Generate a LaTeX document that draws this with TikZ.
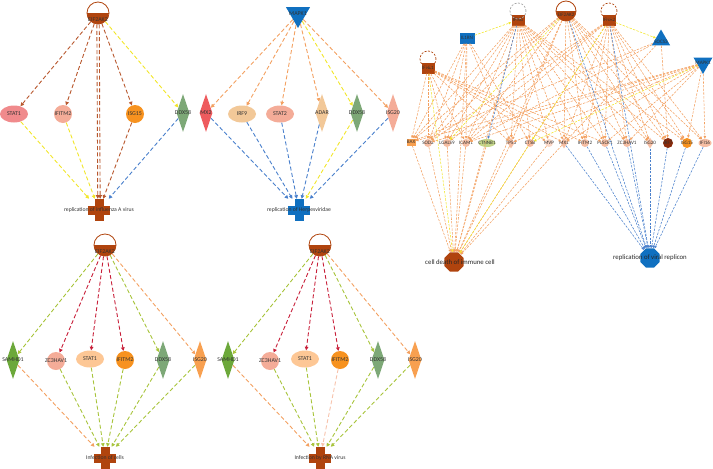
\documentclass[tikz,border=0pt]{standalone}
\usepackage{fontspec}
\setmainfont{Carlito}
\usepackage{tikz}
\usetikzlibrary{shapes.geometric, arrows.meta}
\definecolor{brownNode}{HTML}{B0440E}
\definecolor{brownEdge}{HTML}{B8582E}
\definecolor{blueNode}{HTML}{1070C0}
\definecolor{blueEdge}{HTML}{4A80CC}
\definecolor{yellowEdge}{HTML}{F2E62A}
\definecolor{orangeEdge}{HTML}{F3A060}
\definecolor{limeEdge}{HTML}{A8C43C}
\definecolor{redEdge}{HTML}{C8203A}
\definecolor{paleEdge}{HTML}{F7C3AC}
\definecolor{pinkFill}{HTML}{F08A8C}
\definecolor{salmonFill}{HTML}{F4AC98}
\definecolor{orangeFill}{HTML}{F7921F}
\definecolor{greenFill}{HTML}{7DA877}
\definecolor{leafFill}{HTML}{6CA83A}
\definecolor{tanFill}{HTML}{F2C898}
\definecolor{redFill}{HTML}{EE5B5E}
\definecolor{peachFill}{HTML}{FDC795}
\definecolor{carrotFill}{HTML}{F8A050}
\definecolor{lightFill}{HTML}{F6BEA3}
\definecolor{darkFill}{HTML}{8A2A0A}
\definecolor{oliveFill}{HTML}{C3D589}
\tikzstyle{geneText} = [font=\fontsize{5.9}{6}\selectfont, text=black!80]
\tikzstyle{smallText} = [font=\fontsize{5.1}{5}\selectfont, text=black!80]
\tikzstyle{funcText} = [font=\fontsize{5.7}{6}\selectfont, text=black!80]
\tikzstyle{bigText} = [font=\fontsize{6.8}{7}\selectfont, text=black!85]
\tikzstyle{ovalNode} = [ellipse, minimum width=28pt, minimum height=17pt, inner sep=0pt]
\tikzstyle{roundNode} = [circle, minimum size=18pt, inner sep=0pt]
\tikzstyle{diamondNode} = [diamond, minimum width=13pt, minimum height=38pt, inner sep=0pt]
\tikzstyle{squareNode} = [rectangle, minimum width=13pt, minimum height=11pt, inner sep=0pt]
\tikzstyle{triangleNode} = [regular polygon, regular polygon sides=3, minimum size=28pt, inner sep=0pt, fill=blueNode]
\tikzstyle{octagonNode} = [regular polygon, regular polygon sides=8, minimum size=21pt, inner sep=0pt]
\tikzstyle{kinaseNode} = [circle, draw=brownNode, thick, minimum size=22pt, inner sep=0pt,
  path picture={\fill[brownNode] (path picture bounding box.west) rectangle (path picture bounding box.south east);}]
\tikzstyle{haloRing} = [dash pattern=on 2pt off 1.5pt, line width=0.7pt]
\tikzstyle{linkEdge} = [dash pattern=on 4pt off 2.4pt, line width=0.9pt, -{Triangle[length=3.6pt,width=3.6pt]}]
\tikzstyle{thinEdge} = [dash pattern=on 2.4pt off 1.3pt, line width=0.55pt, -{Triangle[length=2.6pt,width=2.4pt]}]
\tikzset{crossNode/.style={rectangle, minimum size=22pt, inner sep=0pt, path picture={
  \fill[#1] ([xshift=-4.5pt]path picture bounding box.north) rectangle ([xshift=4.5pt]path picture bounding box.south);
  \fill[#1] ([yshift=4.5pt]path picture bounding box.west) rectangle ([yshift=-4.5pt]path picture bounding box.east);}}}
\tikzset{tinyNode/.style={circle, minimum size=8pt, inner sep=0pt, fill=#1}}

\begin{document}
\begin{tikzpicture}[x=1pt, y=-1pt]
    \useasboundingbox (0,0) rectangle (713,469);
    % replication of influenza A virus
    \node[kinaseNode, label={[geneText, yshift=-7pt]center:EIF2AK2}] (aEif) at (98,13) {};
    \node[ovalNode, fill=pinkFill, label={[geneText]center:STAT1}] (aStat) at (14,114) {};
    \node[roundNode, fill=salmonFill, label={[geneText]center:IFITM2}] (aIfitm) at (63,114) {};
    \node[roundNode, fill=orangeFill, label={[geneText]center:ISG15}] (aIsg) at (135,114) {};
    \node[diamondNode, fill=greenFill, label={[geneText]center:DDX58}] (aDdx) at (183,113) {};
    \node[crossNode=brownNode, label={[funcText]center:replication of influenza A virus}] (aRep) at (99,210) {};
    \foreach \gene/\tone in {aStat/brownEdge, aIfitm/brownEdge, aIsg/brownEdge, aDdx/yellowEdge}
      \draw[linkEdge, draw=\tone] (aEif) -- (\gene);
    \draw[linkEdge, draw=brownEdge, transform canvas={xshift=-1.2pt}] (aEif) -- (aRep);
    \draw[linkEdge, draw=brownEdge, transform canvas={xshift=1.2pt}] (aEif) -- (aRep);
    \foreach \gene/\tone in {aStat/yellowEdge, aIfitm/yellowEdge, aIsg/brownEdge, aDdx/blueEdge}
      \draw[linkEdge, draw=\tone] (\gene) -- (aRep);
    % replication of Herpesviridae
    \node[triangleNode, shape border rotate=180, label={[geneText]center:MAPK1}] (bMapk) at (298,14) {};
    \node[diamondNode, fill=redFill, label={[geneText]center:MX2}] (bMx) at (206,113) {};
    \node[ovalNode, fill=tanFill, label={[geneText]center:IRF9}] (bIrf) at (242,114) {};
    \node[ovalNode, fill=salmonFill, label={[geneText]center:STAT2}] (bStat) at (280,114) {};
    \node[diamondNode, fill=tanFill, label={[geneText]center:ADAR}] (bAdar) at (322,113) {};
    \node[diamondNode, fill=greenFill, label={[geneText]center:DDX58}] (bDdx) at (357,113) {};
    \node[diamondNode, fill=salmonFill, label={[geneText]center:ISG20}] (bIsg) at (393,113) {};
    \node[crossNode=blueNode, label={[funcText]center:replication of Herpesviridae}] (bRep) at (299,210) {};
    \foreach \gene/\tone in {bMx/orangeEdge, bIrf/orangeEdge, bStat/orangeEdge, bAdar/orangeEdge, bDdx/yellowEdge, bIsg/orangeEdge}
      \draw[linkEdge, draw=\tone] (bMapk) -- (\gene);
    \foreach \gene/\tone in {bMx/blueEdge, bIrf/blueEdge, bStat/blueEdge, bAdar/blueEdge, bDdx/yellowEdge, bIsg/blueEdge}
      \draw[linkEdge, draw=\tone] (\gene) -- (bRep);
    % Infection of cells
    \node[kinaseNode, label={[geneText, yshift=-7pt]center:EIF2AK2}] (cEif) at (105,245) {};
    \node[diamondNode, fill=leafFill, label={[geneText]center:SAMHD1}] (cSam) at (13,360) {};
    \node[roundNode, fill=salmonFill, label={[geneText]center:ZC3HAV1}] (cZc) at (56,361) {};
    \node[ovalNode, fill=peachFill, label={[geneText]center:STAT1}] (cStat) at (90,359) {};
    \node[roundNode, fill=orangeFill, label={[geneText]center:IFITM2}] (cIfitm) at (125,360) {};
    \node[diamondNode, fill=greenFill, label={[geneText]center:DDX58}] (cDdx) at (163,360) {};
    \node[diamondNode, fill=carrotFill, label={[geneText]center:ISG20}] (cIsg) at (200,360) {};
    \node[crossNode=brownNode, label={[funcText]center:Infection of cells}] (cInf) at (105,458) {};
    \foreach \gene/\tone in {cSam/limeEdge, cZc/redEdge, cStat/redEdge, cIfitm/redEdge, cDdx/limeEdge, cIsg/orangeEdge}
      \draw[linkEdge, draw=\tone] (cEif) -- (\gene);
    \foreach \gene/\tone in {cSam/orangeEdge, cZc/limeEdge, cStat/limeEdge, cIfitm/limeEdge, cDdx/limeEdge, cIsg/limeEdge}
      \draw[linkEdge, draw=\tone] (\gene) -- (cInf);
    % Infection by RNA virus
    \node[kinaseNode, label={[geneText, yshift=-7pt]center:EIF2AK2}] (dEif) at (320,245) {};
    \node[diamondNode, fill=leafFill, label={[geneText]center:SAMHD1}] (dSam) at (228,360) {};
    \node[roundNode, fill=salmonFill, label={[geneText]center:ZC3HAV1}] (dZc) at (270,361) {};
    \node[ovalNode, fill=peachFill, label={[geneText]center:STAT1}] (dStat) at (305,359) {};
    \node[roundNode, fill=orangeFill, label={[geneText]center:IFITM2}] (dIfitm) at (340,360) {};
    \node[diamondNode, fill=greenFill, label={[geneText]center:DDX58}] (dDdx) at (378,360) {};
    \node[diamondNode, fill=carrotFill, label={[geneText]center:ISG20}] (dIsg) at (415,360) {};
    \node[crossNode=brownNode, label={[funcText]center:Infection by RNA virus}] (dInf) at (320,458) {};
    \foreach \gene/\tone in {dSam/limeEdge, dZc/redEdge, dStat/redEdge, dIfitm/redEdge, dDdx/limeEdge, dIsg/orangeEdge}
      \draw[linkEdge, draw=\tone] (dEif) -- (\gene);
    \foreach \gene/\tone in {dSam/orangeEdge, dZc/limeEdge, dStat/limeEdge, dIfitm/paleEdge, dDdx/limeEdge, dIsg/limeEdge}
      \draw[linkEdge, draw=\tone] (\gene) -- (dInf);
    % network
    \node[squareNode, fill=brownNode, label={[smallText]center:IFNL1}] (rIfnl) at (428,68) {};
    \node[squareNode, fill=blueNode, minimum width=15pt, label={[smallText]center:IL1RN}] (rIl1rn) at (467,38) {};
    \node[squareNode, fill=brownNode, label={[smallText]center:IFNG}] (rIfng) at (518,20) {};
    \node[kinaseNode, minimum size=20pt, label={[smallText, yshift=-4pt]center:EIF2AK2}] (rEif) at (566,11) {};
    \node[squareNode, fill=brownNode, label={[smallText]center:IFNA2}] (rIfna) at (609,20) {};
    \node[triangleNode, minimum size=21pt, label={[smallText, yshift=-2pt]center:SOCS3}] (rSocs) at (661,40) {};
    \node[triangleNode, minimum size=22pt, shape border rotate=180, label={[smallText]center:MAPK1}] (rMapk) at (703,63) {};
    \draw[haloRing, brownNode] ([yshift=9pt]rIfnl.center) circle (8pt);
    \draw[haloRing, gray!70] ([yshift=9pt]rIfng.center) circle (8pt);
    \draw[haloRing, brownNode] ([yshift=9pt]rIfna.center) circle (8pt);
    \node[rectangle, minimum width=9pt, minimum height=7pt, inner sep=0pt, fill=carrotFill, label={[smallText]center:BAX}] (rBax) at (411,142) {};
    \node[tinyNode=lightFill, label={[smallText]center:SOD2}] (rSod) at (428,143) {};
    \node[tinyNode=lightFill, label={[smallText]center:LGALS9}] (rLgals) at (447,143) {};
    \node[tinyNode=lightFill, label={[smallText]center:ICAM1}] (rIcam) at (466,143) {};
    \node[ellipse, minimum width=17pt, minimum height=8pt, inner sep=0pt, fill=oliveFill, label={[smallText]center:CTNNB1}] (rCtnnb) at (487,143) {};
    \node[diamond, minimum width=7pt, minimum height=11pt, inner sep=0pt, fill=lightFill, label={[smallText]center:TP53}] (rTp) at (511,143) {};
    \node[tinyNode=lightFill, label={[smallText]center:CTSB}] (rCtsb) at (530,143) {};
    \node[tinyNode=lightFill!60, label={[smallText]center:MVP}] (rMvp) at (549,143) {};
    \node[diamond, minimum width=7pt, minimum height=11pt, inner sep=0pt, fill=lightFill, label={[smallText]center:MX1}] (rMx) at (564,143) {};
    \node[tinyNode=lightFill, label={[smallText]center:IFITM2}] (rIfitm) at (585,143) {};
    \node[tinyNode=lightFill, label={[smallText]center:PLSCR1}] (rPlscr) at (605,143) {};
    \node[tinyNode=lightFill, label={[smallText]center:ZC3HAV1}] (rZc) at (627,143) {};
    \node[diamond, minimum width=7pt, minimum height=11pt, inner sep=0pt, fill=lightFill, label={[smallText]center:ISG20}] (rIsg20) at (650,143) {};
    \node[tinyNode=darkFill, minimum size=10pt, label={[smallText]center:IRF7}] (rIrf) at (668,143) {};
    \node[tinyNode=orangeFill, minimum size=10pt, label={[smallText]center:ISG15}] (rIsg15) at (687,143) {};
    \node[ellipse, minimum width=13pt, minimum height=8pt, inner sep=0pt, fill=lightFill, label={[smallText]center:IFI16}] (rIfi) at (705,143) {};
    \node[octagonNode, fill=brownNode, label={[bigText, xshift=6pt]center:cell death of immune cell}] (rDeath) at (454,262) {};
    \node[octagonNode, fill=blueNode, label={[bigText]center:replication of viral replicon}] (rRepl) at (650,258) {};
    \foreach \src/\dstList in {rIfnl/{rBax,rSod,rLgals,rIcam,rTp,rMvp,rMx,rIfitm,rPlscr},
        rIl1rn/{rBax,rSod,rLgals,rIcam,rTp,rCtsb,rDeath},
        rIfng/{rBax,rSod,rLgals,rIcam,rTp,rCtsb,rMvp,rMx,rIfitm,rPlscr,rZc,rIsg20,rIrf,rIsg15,rDeath},
        rEif/{rBax,rSod,rIcam,rTp,rMx,rIfitm,rPlscr,rZc,rIsg20,rIrf,rIsg15,rIfi,rDeath},
        rIfna/{rSod,rLgals,rIcam,rMx,rIfitm,rPlscr,rZc,rIsg20,rIrf,rIsg15,rIfi,rDeath},
        rSocs/{rBax,rIcam,rMx,rIrf},
        rMapk/{rBax,rSod,rIcam,rTp,rMx,rZc,rPlscr,rIsg15,rIfi},
        rBax/{rDeath}, rSod/{rDeath}, rLgals/{rDeath}, rIcam/{rDeath}, rCtnnb/{rDeath},
        rTp/{rDeath}, rMvp/{rDeath}, rMx/{rDeath}}
      \foreach \dst in \dstList
        \draw[thinEdge, draw=orangeEdge] (\src) -- (\dst);
    \foreach \src/\dst in {rIl1rn/rIfng, rIfna/rSocs, rIfnl/rDeath, rIfna/rCtsb, rMapk/rCtsb, rCtsb/rDeath, rEif/rLgals}
      \draw[thinEdge, draw=yellowEdge] (\src) -- (\dst);
    \foreach \src/\dst in {rEif/rRepl, rIfna/rRepl, rIfng/rCtnnb, rMx/rRepl, rIfitm/rRepl, rPlscr/rRepl,
        rZc/rRepl, rIsg20/rRepl, rIrf/rRepl, rIsg15/rRepl, rIfi/rRepl}
      \draw[thinEdge, draw=blueEdge] (\src) -- (\dst);
\end{tikzpicture}
\end{document}
